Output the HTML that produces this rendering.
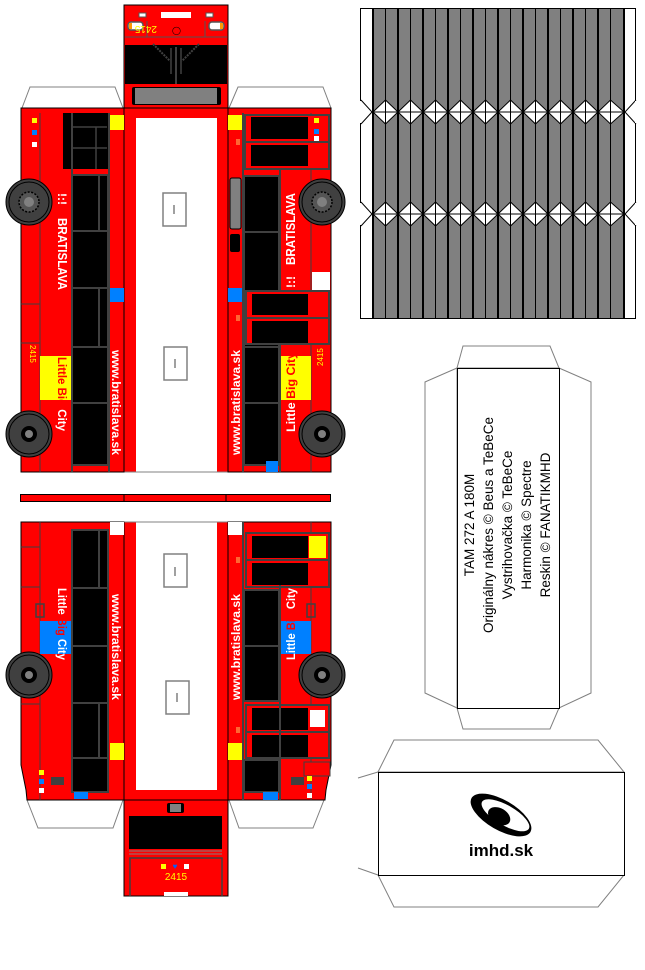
<!DOCTYPE html>
<html><head><meta charset="utf-8"><style>
html,body{margin:0;padding:0;background:#fff;}
svg{display:block;}
text{font-family:"Liberation Sans",sans-serif;}
</style></head><body>
<svg width="645" height="970" viewBox="0 0 645 970" xmlns="http://www.w3.org/2000/svg">
<defs>
<g id="wheel">
<circle r="23" fill="#404040" stroke="#000" stroke-width="1"/>
<circle r="20" fill="none" stroke="#000" stroke-width="1"/>
</g>
<g id="hub1"><circle r="10" fill="#555" stroke="#000" stroke-width="1.5" stroke-dasharray="2 1.5"/><circle r="5" fill="#808080"/></g>
<g id="hub2"><circle r="8" fill="#000"/><circle r="4" fill="#808080"/></g>
</defs>

<polygon points="22,108 30,87 115,87 123,108" fill="#fff" stroke="#808080"/>
<polygon points="229,108 238,87 323,87 331,108" fill="#fff" stroke="#808080"/>

<!-- front face -->
<rect x="124" y="5" width="104" height="103" fill="#f00" stroke="#000"/>
<rect x="125" y="45" width="102" height="39" fill="#000"/>
<line x1="125" y1="37" x2="227" y2="37" stroke="#555"/>
<rect x="161" y="12" width="30" height="6" fill="#fff"/>
<rect x="139" y="13" width="7" height="4" fill="#fff" stroke="#555"/>
<rect x="206" y="13" width="7" height="4" fill="#fff" stroke="#555"/>
<rect x="128" y="22" width="15" height="8" rx="3" fill="#fff" stroke="#555" stroke-width="1.5"/>
<rect x="129" y="23" width="3" height="6" fill="#f90"/>
<rect x="209" y="22" width="15" height="8" rx="3" fill="#fff" stroke="#555" stroke-width="1.5"/>
<rect x="220" y="23" width="3" height="6" fill="#f90"/>
<line x1="147" y1="21" x2="147" y2="37" stroke="#555"/>
<line x1="205" y1="21" x2="205" y2="37" stroke="#555"/>
<text x="157" y="34" font-size="10" fill="#ff0" transform="rotate(180 157 30)">2415</text>
<text x="172" y="33" font-size="8" fill="#000">&#9711;</text>
<line x1="176" y1="47" x2="176" y2="84" stroke="#404040" stroke-width="2"/>
<line x1="171" y1="48" x2="171" y2="74" stroke="#404040" stroke-width="1.5"/>
<line x1="181" y1="48" x2="181" y2="74" stroke="#404040" stroke-width="1.5"/>
<line x1="153" y1="44" x2="170" y2="61" stroke="#404040" stroke-width="2" stroke-dasharray="2 1"/>
<line x1="199" y1="44" x2="182" y2="61" stroke="#404040" stroke-width="2" stroke-dasharray="2 1"/>
<rect x="132" y="87" width="89" height="18" rx="2" fill="#000"/>
<rect x="135" y="88" width="82" height="16" fill="#808080"/>

<!-- roof top -->
<rect x="124" y="108" width="104" height="364" fill="#f00" stroke="#000"/>
<rect x="136" y="118" width="81" height="354" fill="#fff"/>
<line x1="124" y1="472" x2="228" y2="472" stroke="#808080"/>
<rect x="163" y="193" width="23" height="33" fill="none" stroke="#808080" stroke-width="1.5"/>
<line x1="174" y1="205" x2="174" y2="214" stroke="#808080" stroke-width="1.5"/>
<rect x="164" y="347" width="23" height="33" fill="none" stroke="#808080" stroke-width="1.5"/>
<line x1="175" y1="359" x2="175" y2="368" stroke="#808080" stroke-width="1.5"/>

<!-- left side top -->
<rect x="21" y="108" width="103" height="364" fill="#f00" stroke="#000"/>
<line x1="40" y1="113" x2="40" y2="472" stroke="#404040"/>
<line x1="21" y1="304" x2="40" y2="304" stroke="#404040"/>
<line x1="21" y1="343" x2="40" y2="343" stroke="#404040"/>
<rect x="63" y="113" width="45" height="56" fill="#000"/>
<path d="M73,127 H107 M73,148 H107 M96,127 V169" stroke="#404040" stroke-width="1.5"/>
<rect x="71" y="169" width="37" height="6" fill="#f00"/>
<rect x="72" y="175" width="36" height="290" fill="#000" stroke="#404040" stroke-width="2"/>
<path d="M72,231 H108 M72,288 H108 M72,347 H108 M72,403 H108 M99,288 V347 M99,231 V175" stroke="#404040" stroke-width="2"/>
<line x1="72" y1="113" x2="72" y2="472" stroke="#404040" stroke-width="2"/>
<line x1="109" y1="113" x2="109" y2="472" stroke="#404040" stroke-width="2"/>
<rect x="110" y="115" width="14" height="15" fill="#ff0"/>
<rect x="110" y="288" width="14" height="14" fill="#0080ff"/>
<rect x="32" y="118" width="5" height="5" fill="#ff0"/>
<rect x="32" y="130" width="5" height="5" fill="#0080ff"/>
<rect x="32" y="142" width="5" height="5" fill="#fff"/>
<rect x="40" y="356" width="31" height="44" fill="#ff0"/>
<text font-size="13" font-weight="bold" fill="#fff" transform="translate(58,218) rotate(90)" textLength="72" lengthAdjust="spacingAndGlyphs">BRATISLAVA</text>
<text font-size="12" font-weight="bold" fill="#fff" transform="translate(58,193) rotate(90)">!:!</text>
<text font-size="12" font-weight="bold" fill="#f00" transform="translate(58,357) rotate(90)" textLength="74" lengthAdjust="spacingAndGlyphs">Little Big <tspan fill="#fff">City</tspan></text>
<text font-size="12" font-weight="bold" fill="#fff" transform="translate(112,350) rotate(90)" textLength="105" lengthAdjust="spacingAndGlyphs">www.bratislava.sk</text>
<text font-size="8" fill="#ff0" transform="translate(30,345) rotate(90)">2415</text>
<use href="#wheel" x="29" y="202"/><use href="#hub1" x="29" y="202"/>
<use href="#wheel" x="29" y="434"/><use href="#hub2" x="29" y="434"/>

<!-- right side top -->
<rect x="228" y="108" width="103" height="364" fill="#f00" stroke="#000"/>
<line x1="311" y1="113" x2="311" y2="472" stroke="#404040"/>
<rect x="228" y="115" width="17" height="15" fill="#ff0"/>
<rect x="245" y="115" width="84" height="54" fill="#f00" stroke="#404040" stroke-width="2"/>
<rect x="251" y="117" width="57" height="22" fill="#000"/>
<rect x="251" y="145" width="57" height="21" fill="#000"/>
<line x1="245" y1="142" x2="329" y2="142" stroke="#404040" stroke-width="2"/>
<rect x="314" y="118" width="5" height="5" fill="#ff0"/>
<rect x="314" y="129" width="5" height="5" fill="#0080ff"/>
<rect x="314" y="136" width="5" height="5" fill="#fff"/>
<rect x="244" y="176" width="35" height="289" fill="#000" stroke="#404040" stroke-width="2"/>
<path d="M244,232 H279 M244,403 H279 M244,347 H279" stroke="#404040" stroke-width="2"/>
<line x1="243" y1="113" x2="243" y2="472" stroke="#404040" stroke-width="2"/>
<line x1="280" y1="169" x2="280" y2="472" stroke="#404040" stroke-width="2"/>
<rect x="230" y="178" width="11" height="51" rx="2" fill="#808080" stroke="#000"/>
<rect x="230" y="234" width="10" height="18" rx="2" fill="#000"/>
<rect x="236" y="139" width="4" height="6" fill="#f63"/>
<rect x="246" y="291" width="83" height="53" fill="#f00" stroke="#404040" stroke-width="2"/>
<rect x="252" y="294" width="56" height="21" fill="#000"/>
<rect x="252" y="321" width="56" height="22" fill="#000"/>
<line x1="246" y1="318" x2="329" y2="318" stroke="#404040" stroke-width="2"/>
<rect x="312" y="272" width="18" height="18" fill="#fff"/>
<rect x="228" y="288" width="14" height="14" fill="#0080ff"/>
<rect x="266" y="461" width="12" height="11" fill="#0080ff"/>
<rect x="236" y="315" width="4" height="6" fill="#f63"/>
<rect x="281" y="356" width="30" height="44" fill="#ff0"/>
<text font-size="13" font-weight="bold" fill="#fff" transform="translate(295,265) rotate(-90)" textLength="72" lengthAdjust="spacingAndGlyphs">BRATISLAVA</text>
<text font-size="12" font-weight="bold" fill="#fff" transform="translate(295,288) rotate(-90)">!:!</text>
<text font-size="12" font-weight="bold" fill="#fff" transform="translate(295,432) rotate(-90)" textLength="80" lengthAdjust="spacingAndGlyphs">Little <tspan fill="#f00">Big City</tspan></text>
<text font-size="12" font-weight="bold" fill="#fff" transform="translate(240,455) rotate(-90)" textLength="105" lengthAdjust="spacingAndGlyphs">www.bratislava.sk</text>
<text font-size="8" fill="#ff0" transform="translate(323,366) rotate(-90)">2415</text>
<use href="#wheel" x="322" y="202"/><use href="#hub1" x="322" y="202"/>
<use href="#wheel" x="322" y="434"/><use href="#hub2" x="322" y="434"/>

<!-- thin strip -->
<rect x="20.5" y="494.5" width="310" height="7" fill="#f00" stroke="#000"/>
<line x1="124" y1="494" x2="124" y2="502" stroke="#000"/>
<line x1="226" y1="494" x2="226" y2="502" stroke="#000"/>

<polygon points="27,800 38,828 113,828 123,800" fill="#fff" stroke="#808080"/>
<polygon points="229,800 239,828 313,828 324,800" fill="#fff" stroke="#808080"/>

<!-- roof bottom -->
<rect x="124" y="522" width="104" height="278" fill="#f00" stroke="#000"/>
<rect x="136" y="522" width="81" height="268" fill="#fff"/>
<line x1="124" y1="522" x2="228" y2="522" stroke="#808080"/>
<rect x="164" y="554" width="23" height="33" fill="none" stroke="#808080" stroke-width="1.5"/>
<line x1="175" y1="567" x2="175" y2="576" stroke="#808080" stroke-width="1.5"/>
<rect x="166" y="681" width="23" height="33" fill="none" stroke="#808080" stroke-width="1.5"/>
<line x1="177" y1="693" x2="177" y2="702" stroke="#808080" stroke-width="1.5"/>

<!-- left side bottom -->
<polygon points="21,522 124,522 124,800 27,800 26,790 24,780 22,770 21,765" fill="#f00" stroke="#000"/>
<line x1="40" y1="522" x2="40" y2="800" stroke="#404040"/>
<path d="M21,547 H40 M21,587 H40 M21,704 H40" stroke="#404040"/>
<rect x="72" y="530" width="36" height="262" fill="#000" stroke="#404040" stroke-width="2"/>
<path d="M72,588 H108 M72,646 H108 M72,703 H108 M72,758 H108 M99,530 V588 M99,703 V758" stroke="#404040" stroke-width="2"/>
<rect x="110" y="522" width="14" height="13" fill="#fff"/>
<rect x="110" y="743" width="14" height="17" fill="#ff0"/>
<rect x="74" y="792" width="14" height="7" fill="#0080ff"/>
<rect x="40" y="621" width="31" height="33" fill="#0080ff"/>
<rect x="36" y="604" width="8" height="13" fill="none" stroke="#404040" stroke-width="1.5"/>
<rect x="51" y="777" width="13" height="8" fill="#404040"/>
<rect x="39" y="770" width="5" height="5" fill="#ff0"/>
<rect x="39" y="779" width="5" height="5" fill="#0080ff"/>
<rect x="39" y="788" width="5" height="5" fill="#fff"/>
<text font-size="12" font-weight="bold" fill="#fff" transform="translate(58,588) rotate(90)" textLength="72" lengthAdjust="spacingAndGlyphs">Little <tspan fill="#f00">Big</tspan> City</text>
<text font-size="12" font-weight="bold" fill="#fff" transform="translate(112,594) rotate(90)" textLength="106" lengthAdjust="spacingAndGlyphs">www.bratislava.sk</text>
<use href="#wheel" x="29" y="675"/><use href="#hub2" x="29" y="675"/>

<!-- right side bottom -->
<polygon points="228,522 331,522 331,765 330,770 328,780 326,790 325,800 228,800" fill="#f00" stroke="#000"/>
<line x1="311" y1="522" x2="311" y2="800" stroke="#404040"/>
<rect x="246" y="533" width="83" height="54" fill="#f00" stroke="#404040" stroke-width="2"/>
<rect x="252" y="536" width="56" height="22" fill="#000"/>
<rect x="309" y="536" width="17" height="22" fill="#ff0"/>
<rect x="252" y="563" width="56" height="22" fill="#000"/>
<line x1="246" y1="560" x2="329" y2="560" stroke="#404040" stroke-width="2"/>
<rect x="244" y="590" width="35" height="111" fill="#000" stroke="#404040" stroke-width="2"/>
<line x1="244" y1="646" x2="279" y2="646" stroke="#404040" stroke-width="2"/>
<rect x="246" y="705" width="83" height="53" fill="#f00" stroke="#404040" stroke-width="2"/>
<rect x="252" y="708" width="56" height="22" fill="#000"/>
<rect x="310" y="710" width="15" height="17" fill="#fff"/>
<rect x="252" y="735" width="56" height="22" fill="#000"/>
<line x1="246" y1="732" x2="329" y2="732" stroke="#404040" stroke-width="2"/>
<rect x="244" y="760" width="35" height="32" fill="#000" stroke="#404040" stroke-width="2"/>
<line x1="243" y1="522" x2="243" y2="800" stroke="#404040" stroke-width="2"/>
<line x1="280" y1="585" x2="280" y2="800" stroke="#404040" stroke-width="2"/>
<rect x="228" y="522" width="14" height="13" fill="#fff"/>
<rect x="228" y="743" width="14" height="17" fill="#ff0"/>
<rect x="263" y="792" width="15" height="8" fill="#0080ff"/>
<rect x="236" y="557" width="4" height="6" fill="#f63"/>
<rect x="236" y="727" width="4" height="6" fill="#f63"/>
<rect x="281" y="621" width="30" height="33" fill="#0080ff"/>
<rect x="307" y="604" width="8" height="13" fill="none" stroke="#404040" stroke-width="1.5"/>
<rect x="291" y="777" width="13" height="8" fill="#404040"/>
<rect x="304" y="762" width="26" height="14" fill="#f00" stroke="#404040"/>
<rect x="307" y="776" width="5" height="5" fill="#ff0"/>
<rect x="307" y="784" width="5" height="5" fill="#0080ff"/>
<rect x="307" y="793" width="5" height="5" fill="#fff"/>
<text font-size="12" font-weight="bold" fill="#fff" transform="translate(295,660) rotate(-90)" textLength="72" lengthAdjust="spacingAndGlyphs">Little <tspan fill="#f00">Big</tspan> City</text>
<text font-size="12" font-weight="bold" fill="#fff" transform="translate(240,700) rotate(-90)" textLength="106" lengthAdjust="spacingAndGlyphs">www.bratislava.sk</text>
<use href="#wheel" x="322" y="675"/><use href="#hub2" x="322" y="675"/>

<!-- rear face -->
<rect x="124" y="800" width="104" height="96" fill="#f00" stroke="#000"/>
<rect x="167" y="803" width="17" height="10" rx="2" fill="#000"/>
<rect x="170" y="804" width="11" height="8" fill="#808080"/>
<rect x="129" y="816" width="93" height="33" fill="#000"/>
<path d="M129,851 H222 M129,854 H222" stroke="#808080"/>
<path d="M130,896 V858 H222 V896" fill="none" stroke="#404040" stroke-width="1.5"/>
<rect x="161" y="864" width="5" height="5" fill="#ff0"/>
<rect x="184" y="864" width="5" height="5" fill="#fff"/>
<text x="175" y="869" font-size="8" fill="#0060ff" text-anchor="middle">&#9829;</text>
<text x="176" y="880" font-size="10" fill="#ff0" text-anchor="middle">2415</text>
<rect x="164" y="892" width="24" height="4" fill="#fff"/>

<!-- harmonica -->
<rect x="360.5" y="8.5" width="275" height="310" fill="#fff" stroke="#000"/>
<rect x="373" y="9" width="251" height="309" fill="#808080"/>
<g stroke="#000">
<line x1="373" y1="8" x2="373" y2="318" stroke-width="2"/>
<line x1="398" y1="8" x2="398" y2="318" stroke-width="2"/>
<line x1="423" y1="8" x2="423" y2="318" stroke-width="2"/>
<line x1="448" y1="8" x2="448" y2="318" stroke-width="2"/>
<line x1="473" y1="8" x2="473" y2="318" stroke-width="2"/>
<line x1="498" y1="8" x2="498" y2="318" stroke-width="2"/>
<line x1="523" y1="8" x2="523" y2="318" stroke-width="2"/>
<line x1="548" y1="8" x2="548" y2="318" stroke-width="2"/>
<line x1="573" y1="8" x2="573" y2="318" stroke-width="2"/>
<line x1="598" y1="8" x2="598" y2="318" stroke-width="2"/>
<line x1="624" y1="8" x2="624" y2="318" stroke-width="2"/>
<line x1="385.5" y1="8" x2="385.5" y2="318"/>
<line x1="410.5" y1="8" x2="410.5" y2="318"/>
<line x1="435.5" y1="8" x2="435.5" y2="318"/>
<line x1="460.5" y1="8" x2="460.5" y2="318"/>
<line x1="485.5" y1="8" x2="485.5" y2="318"/>
<line x1="510.5" y1="8" x2="510.5" y2="318"/>
<line x1="535.5" y1="8" x2="535.5" y2="318"/>
<line x1="560.5" y1="8" x2="560.5" y2="318"/>
<line x1="585.5" y1="8" x2="585.5" y2="318"/>
<line x1="610.5" y1="8" x2="610.5" y2="318"/>
</g>
<g fill="#fff" stroke="#000" stroke-width="1">
<polygon points="373,112 385.5,100 398,112 385.5,124"/><polygon points="398,112 410.5,100 423,112 410.5,124"/>
<polygon points="423,112 435.5,100 448,112 435.5,124"/><polygon points="448,112 460.5,100 473,112 460.5,124"/>
<polygon points="473,112 485.5,100 498,112 485.5,124"/><polygon points="498,112 510.5,100 523,112 510.5,124"/>
<polygon points="523,112 535.5,100 548,112 535.5,124"/><polygon points="548,112 560.5,100 573,112 560.5,124"/>
<polygon points="573,112 585.5,100 598,112 585.5,124"/><polygon points="598,112 610.5,100 624,112 610.5,124"/>
<polygon points="373,214 385.5,202 398,214 385.5,226"/><polygon points="398,214 410.5,202 423,214 410.5,226"/>
<polygon points="423,214 435.5,202 448,214 435.5,226"/><polygon points="448,214 460.5,202 473,214 460.5,226"/>
<polygon points="473,214 485.5,202 498,214 485.5,226"/><polygon points="498,214 510.5,202 523,214 510.5,226"/>
<polygon points="523,214 535.5,202 548,214 535.5,226"/><polygon points="548,214 560.5,202 573,214 560.5,226"/>
<polygon points="573,214 585.5,202 598,214 585.5,226"/><polygon points="598,214 610.5,202 624,214 610.5,226"/>
</g>
<path d="M373,112 H624 M373,214 H624" stroke="#000"/>
<path d="M385.5,100 V124 M410.5,100 V124 M435.5,100 V124 M460.5,100 V124 M485.5,100 V124 M510.5,100 V124 M535.5,100 V124 M560.5,100 V124 M585.5,100 V124 M610.5,100 V124 M385.5,202 V226 M410.5,202 V226 M435.5,202 V226 M460.5,202 V226 M485.5,202 V226 M510.5,202 V226 M535.5,202 V226 M560.5,202 V226 M585.5,202 V226 M610.5,202 V226" stroke="#000"/>
<path d="M361,100 L372,112 L361,124 M636,100 L625,112 L636,124 M361,202 L372,214 L361,226 M636,202 L625,214 L636,226" fill="none" stroke="#000"/>
<rect x="359" y="101" width="2" height="22" fill="#fff"/><rect x="359" y="203" width="2" height="22" fill="#fff"/>
<rect x="635" y="101" width="2" height="22" fill="#fff"/><rect x="635" y="203" width="2" height="22" fill="#fff"/>

<!-- text box -->
<polygon points="457,368 463,346 550,346 559,368" fill="#fff" stroke="#808080"/>
<polygon points="457,708 463,729 550,729 559,708" fill="#fff" stroke="#808080"/>
<polygon points="457,368 425,382 425,693 457,708" fill="#fff" stroke="#808080"/>
<polygon points="559,368 591,382 591,693 559,708" fill="#fff" stroke="#808080"/>
<rect x="457.5" y="368.5" width="102" height="340" fill="#fff" stroke="#000"/>
<g font-size="13.5" fill="#000" text-anchor="middle">
<text transform="translate(474,525) rotate(-90)">TAM 272 A 180M</text>
<text transform="translate(493,525) rotate(-90)">Originálny nákres © Beus a TeBeCe</text>
<text transform="translate(512,525) rotate(-90)">Vystrihovačka © TeBeCe</text>
<text transform="translate(531,525) rotate(-90)">Harmonika © Spectre</text>
<text transform="translate(550,525) rotate(-90)">Reskin © FANATIKMHD</text>
</g>

<!-- imhd box -->
<polygon points="378,772 394,740 598,740 624,772" fill="#fff" stroke="#808080"/>
<polygon points="378,875 394,907 598,907 624,875" fill="#fff" stroke="#808080"/>
<line x1="378" y1="772" x2="358" y2="778" stroke="#808080"/>
<line x1="378" y1="875" x2="358" y2="868" stroke="#808080"/>
<rect x="378.5" y="772.5" width="246" height="103" fill="#fff" stroke="#000"/>
<g transform="translate(501,815) rotate(30)">
<ellipse rx="34" ry="15" fill="#000"/>
<ellipse cx="4" cy="-2" rx="27" ry="10" fill="#fff"/>
<ellipse cx="-1" cy="2" rx="12" ry="8" fill="#000"/>
</g>
<text x="501" y="856" font-size="17" font-weight="bold" fill="#000" text-anchor="middle">imhd.sk</text>
</svg>
</body></html>
